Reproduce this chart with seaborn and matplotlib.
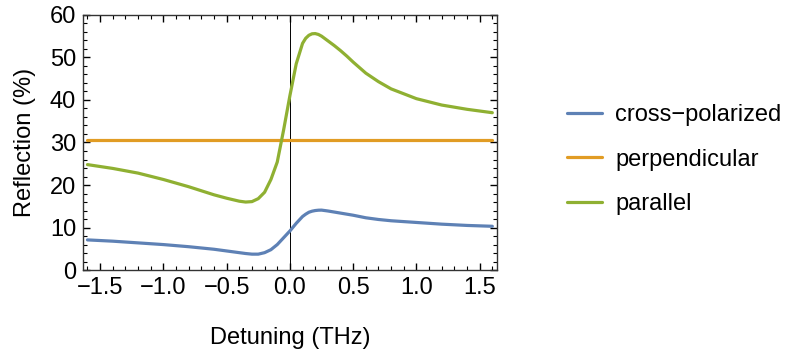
import numpy as np
import pandas as pd
import matplotlib
matplotlib.use("Agg")
import matplotlib.pyplot as plt
import seaborn as sns
from matplotlib.ticker import MultipleLocator

# values
detuning = [-1.6, -1.4, -1.2, -1.0, -0.8, -0.6, -0.5, -0.4, -0.35, -0.3, -0.25, -0.2,
            -0.15, -0.1, -0.05, 0.0, 0.05, 0.1, 0.125, 0.15, 0.175, 0.2, 0.225, 0.25,
            0.3, 0.35, 0.4, 0.45, 0.5, 0.6, 0.7, 0.8, 1.0, 1.2, 1.4, 1.6]
cross_pol = [7.1, 6.8, 6.4, 6.0, 5.5, 4.9, 4.5, 4.1, 3.9, 3.75, 3.75, 4.1,
             4.8, 6.0, 7.6, 9.2, 11.0, 12.6, 13.15, 13.6, 13.85, 14.0, 14.08, 14.1,
             13.9, 13.65, 13.4, 13.15, 12.9, 12.3, 11.9, 11.6, 11.2, 10.8, 10.5, 10.3]
perpendicular = [30.6] * len(detuning)
parallel = [24.8, 23.9, 22.8, 21.3, 19.6, 17.7, 16.9, 16.2, 16.0, 16.1, 16.8, 18.3,
            21.3, 25.4, 32.9, 41.0, 48.5, 53.3, 54.5, 55.2, 55.55, 55.6, 55.4, 55.0,
            53.9, 52.8, 51.6, 50.3, 48.9, 46.3, 44.3, 42.6, 40.3, 38.8, 37.8, 37.0]
labels = ["cross\u2212polarized", "perpendicular", "parallel"]
colors = ["#5E81B5", "#E19C24", "#8FB032"]

df = pd.concat([
    pd.DataFrame({"detuning": detuning, "reflection": vals, "series": lab})
    for vals, lab in zip([cross_pol, perpendicular, parallel], labels)
])

sns.set_style("ticks")
plt.rcParams["font.family"] = ["Liberation Sans", "DejaVu Sans"]
plt.rcParams["text.color"] = "black"
plt.rcParams["axes.labelcolor"] = "black"
fs = 17

fig = plt.figure(figsize=(7.91, 3.54), dpi=100)
ax = fig.add_axes([0.105, 0.237, 0.523, 0.721])

sns.lineplot(data=df, x="detuning", y="reflection", hue="series",
             palette=colors, linewidth=2.3, ax=ax)
ax.axvline(0, color="black", lw=0.7, zorder=1)

ax.set_xlim(-1.635, 1.635)
ax.set_ylim(0, 60)
ax.xaxis.set_major_locator(MultipleLocator(0.5))
ax.xaxis.set_minor_locator(MultipleLocator(0.1))
ax.yaxis.set_major_locator(MultipleLocator(10))
ax.yaxis.set_minor_locator(MultipleLocator(2))
ax.tick_params(which="both", direction="in", top=True, right=True,
               labelsize=fs, colors="black")
ax.tick_params(which="major", length=5, width=1, pad=5)
ax.tick_params(which="minor", length=3, width=0.8)
for s in ax.spines.values():
    s.set_linewidth(1)
    s.set_color("#333333")
ax.set_xticks([-1.5, -1.0, -0.5, 0.0, 0.5, 1.0, 1.5])
ax.set_xticklabels(["\u22121.5", "\u22121.0", "\u22120.5", "0.0", "0.5", "1.0", "1.5"])
ax.set_yticks([0, 10, 20, 30, 40, 50, 60])

ax.set_xlabel("Detuning (THz)", fontsize=fs, labelpad=20, color="black")
ax.set_ylabel("Reflection (%)", fontsize=fs, labelpad=10, color="black")

handles, labs = ax.get_legend_handles_labels()
ax.get_legend().remove()
leg = fig.legend(handles, labs, loc="upper left", bbox_to_anchor=(0.717, 0.706),
                 frameon=False, fontsize=fs, handlelength=1.48, handletextpad=0.55,
                 labelspacing=0.96, borderpad=0, borderaxespad=0)
for t in leg.get_texts():
    t.set_color("black")

fig.savefig("out.png", dpi=100)
